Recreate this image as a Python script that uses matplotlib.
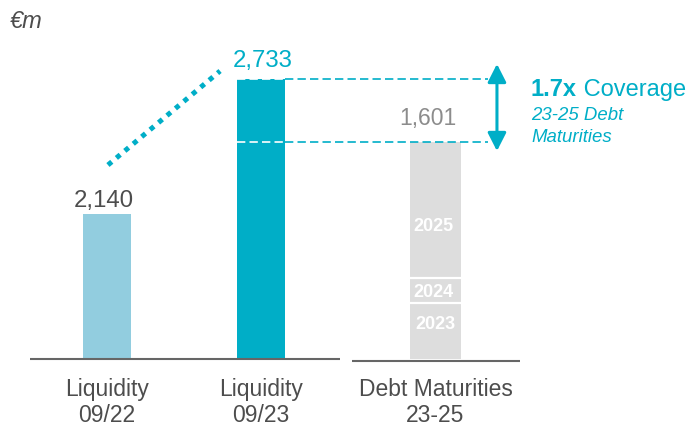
import matplotlib.pyplot as plt

plt.rcParams['font.family'] = ['Liberation Sans', 'DejaVu Sans']

# Datos del gráfico (valores impresos en la imagen)
categorias = ['Liquidity\n09/22', 'Liquidity\n09/23', 'Debt Maturities\n23-25']
valores = [2140, 2733, 1601]
etiquetas_valores = ['2,140', '2,733', '1,601']

# Alturas tal como están dibujadas (el original no está a escala)
alturas_liquidez = [145, 280]
anios_deuda = ['2023', '2024', '2025']
alturas_deuda = [56, 25, 136]

cobertura = '1.7x'

# Colores
celeste = '#92CDDF'
turquesa = '#00AEC7'
gris_barra = '#DDDDDD'
gris_texto = '#4D4D4D'
gris_claro = '#8C8C8C'
gris_eje = '#666666'

x_pos = [0, 1, 2.133]

fig = plt.figure(figsize=(6.89, 4.27), dpi=100)
ax = fig.add_axes([0, 0, 1, 1])
ax.set_xlim(-0.695, 3.779)
ax.set_ylim(-67, 360)
ax.axis('off')

# Barras de liquidez
ax.bar(x_pos[:2], alturas_liquidez, width=0.31, color=[celeste, turquesa], edgecolor='none', zorder=2)

# Barra apilada de vencimientos
ajuste_etiqueta = {'2023': 7, '2024': -1, '2025': -16}
ajuste_x = {'2023': 0.0, '2024': -0.015, '2025': -0.015}
base = 0
limites = []
for anio, h in zip(anios_deuda, alturas_deuda):
    ax.bar(x_pos[2], h, width=0.33, bottom=base, color=gris_barra, edgecolor='none', zorder=2)
    ax.text(x_pos[2] + ajuste_x[anio], base + h / 2 + ajuste_etiqueta[anio], anio,
            ha='center', va='center', color='white', fontsize=13, fontweight='bold', zorder=4)
    base += h
    limites.append(base)
for y in limites[:-1]:
    ax.hlines(y, x_pos[2] - 0.165, x_pos[2] + 0.165, color='white', lw=1.6, zorder=3)
total_deuda = base

# Ejes (líneas base)
ax.hlines(0, -0.5, 1.51, color=gris_eje, lw=1.5, zorder=3)
ax.hlines(-1.5, 1.59, 2.68, color=gris_eje, lw=1.5, zorder=3)

# Etiquetas de valores
ax.text(x_pos[0] - 0.02, alturas_liquidez[0] + 8, etiquetas_valores[0], ha='center', va='baseline',
        fontsize=17.3, color=gris_texto)
ax.text(x_pos[1] + 0.01, alturas_liquidez[1] + 13, etiquetas_valores[1], ha='center', va='baseline',
        fontsize=17.3, color=turquesa)
ax.text(x_pos[2] - 0.05, total_deuda + 18, etiquetas_valores[2], ha='center', va='baseline',
        fontsize=16.5, color=gris_claro)

# Categorías
for x, cat in zip(x_pos, categorias):
    linea1, linea2 = cat.split('\n')
    ax.text(x, -36, linea1, ha='center', va='baseline', fontsize=16.5, color=gris_texto)
    ax.text(x, -62, linea2, ha='center', va='baseline', fontsize=16.5, color=gris_texto)

# Líneas punteadas de referencia
x_fin = 2.474
bx = x_pos[1] + 0.155
for y in [alturas_liquidez[1], total_deuda]:
    ax.plot([bx, x_fin], [y, y], color=turquesa, lw=1.2, ls=(0, (5, 2.5)), zorder=3)
    ax.plot([x_pos[1] - 0.155, bx], [y, y], color='white', lw=1.2, ls=(0, (5, 2.5)), zorder=3)

# Flecha de cobertura
ax.annotate('', xy=(2.532, 295), xytext=(2.532, 208),
            arrowprops=dict(arrowstyle='<|-|>,head_length=0.55,head_width=0.28', color=turquesa,
                            lw=2.2, mutation_scale=20, shrinkA=0, shrinkB=0))

# Tendencia de liquidez
ax.plot([0.006, 0.734], [194, 288], color=turquesa, lw=3.6, ls=(0, (1, 1.2)),
        dash_capstyle='butt', zorder=3)

# Textos de cobertura
t = ax.text(2.753, 264, cobertura, ha='left', va='baseline', fontsize=17, fontweight='bold', color=turquesa)
ax.annotate(' Coverage', xycoords=t, xy=(1, 0), va='bottom', ha='left', fontsize=17, color=turquesa)
ax.text(2.753, 240, '23-25 Debt', ha='left', va='baseline', fontsize=13.4, style='italic', color=turquesa)
ax.text(2.753, 218, 'Maturities', ha='left', va='baseline', fontsize=13.4, style='italic', color=turquesa)

# Unidad
ax.text(-0.63, 332, '€m', ha='left', va='baseline', fontsize=17, style='italic', color=gris_texto)

fig.savefig('out.png', dpi=100)
